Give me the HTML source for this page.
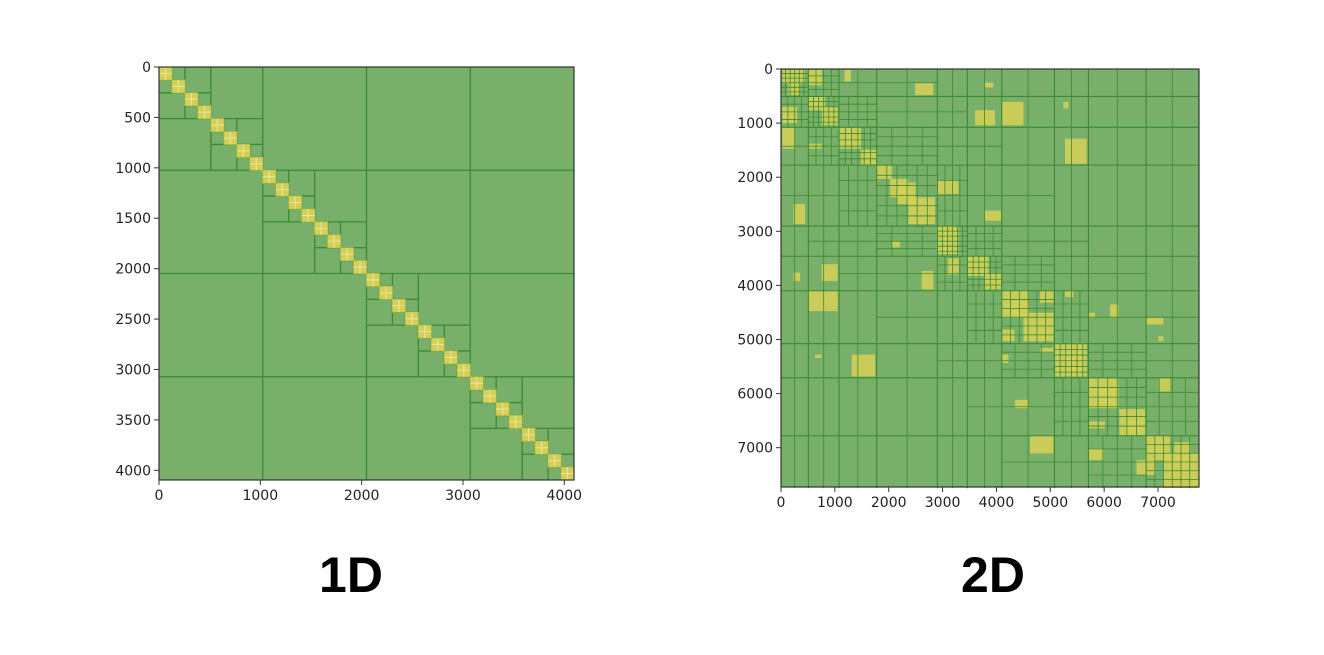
<!DOCTYPE html>
<html><head><meta charset="utf-8">
<style>
html,body{margin:0;padding:0;background:#fff;}
svg text{font-family:"DejaVu Sans","Liberation Sans",sans-serif;}
</style></head>
<body>
<svg id="root" width="1324" height="650" xmlns="http://www.w3.org/2000/svg">
<g id="p1"></g>
<g id="p2"></g>
<text x="351" y="592" text-anchor="middle" font-size="50" font-weight="bold" style="font-family:'Liberation Sans',sans-serif">1D</text>
<text x="993" y="592" text-anchor="middle" font-size="50" font-weight="bold" style="font-family:'Liberation Sans',sans-serif">2D</text>
</svg>
<script>
// ---- data: 1D chart ----
const size1 = 4096;
const levels1 = [1024, 512, 256, 128];
const ticks1 = [0, 1000, 2000, 3000, 4000];
const yticks1 = [0, 500, 1000, 1500, 2000, 2500, 3000, 3500, 4000];
// ---- data: 2D chart ----
const size2 = 7750;
const clusters2 = [0, 508, 1077, 1777, 2904, 3461, 4099, 5077, 5708, 6779, 7750];
const ticks2 = [0, 1000, 2000, 3000, 4000, 5000, 6000, 7000];
const dense2 = [[25,19,446,266],[137,266,353,483],[508,514,818,762],[756,700,1053,1040],[1077,1071,1486,1473],[1486,1492,1777,1764],[1777,1783,2056,2030],[2025,2030,2365,2371],[2365,2371,2860,2866],[2891,2897,3294,3423],[3461,3467,3851,3826],[3776,3776,4086,4073],[4098,4092,4593,4599],[4501,4506,5058,5033],[5089,5064,5677,5683],[5708,5714,6265,6270],[6283,6288,6760,6766],[6779,6784,7224,7230],[7100,7106,7750,7744],[6600,7230,6950,7500],
[508,19,760,300],[1180,19,1300,230],[25,700,300,1000],[2150,2100,2500,2500],[3100,3500,3300,3800],[4300,4300,4600,4600],[5300,5300,5600,5600],[5900,5900,6200,6200],[6400,6500,6700,6700],[7300,6900,7600,7300],
[2489,254,2829,483],[3789,254,3943,341],[3603,762,3974,1040],[4098,607,4501,1040],[5243,607,5336,731],[5274,1288,5677,1752],[25,1071,260,1473],[508,1381,756,1473],[229,2495,446,2866],[756,3609,1053,3918],[229,3764,353,3918],[508,4104,1053,4476],[632,5280,756,5342],[1313,5280,1746,5683],[2613,3733,2829,4073],[2056,3176,2210,3299],[3789,2619,4086,2804],[4810,4104,5058,4321],[5274,4104,5429,4216],[6110,4352,6265,4599],[5708,4506,5831,4599],[6779,4599,7100,4723],[7008,4940,7100,5033],[4098,4816,4333,5033],[4098,5280,4222,5435],[4624,6784,5058,7106],[5708,7010,5986,7230],[7008,5714,7224,5961],[4346,6116,4593,6270],[5708,6518,6017,6642],[4810,5156,5058,5249],[2891,2061,3294,2309]];

const NS = "http://www.w3.org/2000/svg";
const GREEN = "#78b06b", LINE = "#3b8a2e", YEL = "#d3cf58";
function mk(parent, tag, attrs){const e=document.createElementNS(NS,tag);for(const k in attrs)e.setAttribute(k,attrs[k]);parent.appendChild(e);return e;}

// ---- 1D ----
(function(){
  const g = document.getElementById('p1');
  const X0=159, X1=574, Y0=67, Y1=480;
  const sx = v => X0 + v*(X1-X0)/size1;
  const sy = v => Y0 + v*(Y1-Y0)/size1;
  const bg = mk(g,'rect',{x:X0,y:Y0,width:X1-X0,height:Y1-Y0,fill:GREEN});
   
  function line(x1,y1,x2,y2,w){const l=mk(g,'line',{x1:sx(x1),y1:sy(y1),x2:sx(x2),y2:sy(y2),stroke:LINE,'stroke-width':w});
     }
  const top = levels1[0];
  for(let v=top; v<size1; v+=top){ line(v,0,v,size1,1.3); line(0,v,size1,v,1.3); }
  const leaf = levels1[levels1.length-1];
  function rec(o,s,li){
    if(s<=leaf){
      const r=mk(g,'rect',{x:sx(o),y:sy(o),width:sx(o+s)-sx(o),height:sy(o+s)-sy(o),fill:YEL,stroke:"#b9c04c","stroke-width":0.8});
       
      const h=s/2;
      mk(g,'line',{x1:sx(o+h),y1:sy(o),x2:sx(o+h),y2:sy(o+s),stroke:"#e9e48e","stroke-width":1.2});
      mk(g,'line',{x1:sx(o),y1:sy(o+h),x2:sx(o+s),y2:sy(o+h),stroke:"#e9e48e","stroke-width":1.2});
      return;
    }
    const c = levels1[li];
    for(let p=o+c; p<o+s; p+=c){ line(p,o,p,o+s,1.3); line(o,p,o+s,p,1.3); }
    for(let p=o; p<o+s; p+=c) rec(p,c,li+1);
  }
  for(let p=0;p<size1;p+=top) rec(p,top,1);
  const fr=mk(g,'rect',{x:X0,y:Y0,width:X1-X0,height:Y1-Y0,fill:"none",stroke:"#333","stroke-width":1.2});
   
  ticks1.forEach(t=>{
    mk(g,'line',{x1:sx(t),y1:Y1,x2:sx(t),y2:Y1+5,stroke:"#333"});
    const tx=mk(g,'text',{x:sx(t),y:Y1+20,'text-anchor':'middle','font-size':14,fill:'#222'}); tx.textContent=t;
     
  });
  yticks1.forEach(t=>{
    mk(g,'line',{x1:X0-5,y1:sy(t),x2:X0,y2:sy(t),stroke:"#333"});
    const tx=mk(g,'text',{x:X0-8,y:sy(t)+5,'text-anchor':'end','font-size':14,fill:'#222'}); tx.textContent=t;
     
  });
})();

// ---- 2D ----
(function(){
  const g = document.getElementById('p2');
  const X0=781, X1=1199, Y0=69, Y1=487;
  const sx = v => X0 + v*0.05386;
  const sy = v => Y0 + v*0.0541;
  const bg=mk(g,'rect',{x:X0,y:Y0,width:X1-X0,height:Y1-Y0,fill:GREEN});
   
  dense2.forEach(d=>{
    const r=mk(g,'rect',{x:sx(d[0]),y:sy(d[1]),width:sx(d[2])-sx(d[0]),height:sy(d[3])-sy(d[1]),fill:YEL,opacity:0.9});
     
  });
  function line(x1,y1,x2,y2,w){const l=mk(g,'line',{x1:sx(x1),y1:sy(y1),x2:sx(x2),y2:sy(y2),stroke:LINE,'stroke-width':w});
     }
  const n=clusters2.length-1;
  for(let i=1;i<n;i++){ const v=clusters2[i]; line(v,0,v,size2,1.1); line(0,v,size2,v,1.1); }
  for(let i=0;i<n;i++) for(let j=0;j<n;j++){
    const a0=clusters2[i],a1=clusters2[i+1],b0=clusters2[j],b1=clusters2[j+1];
    const d=Math.abs(i-j);
    if(d<=3){
      const k = d===0?6:(d===1?4:2);
      for(let q=1;q<k;q++){
        const xa=a0+(a1-a0)*q/k, yb=b0+(b1-b0)*q/k;
        line(xa,b0,xa,b1,0.8); line(a0,yb,a1,yb,0.8);
      }
    } else {
      line((a0+a1)/2,b0,(a0+a1)/2,b1,0.8);
    }
  }
  const fr=mk(g,'rect',{x:X0,y:Y0,width:X1-X0,height:Y1-Y0,fill:"none",stroke:"#333","stroke-width":1.2});
   
  ticks2.forEach(t=>{
    mk(g,'line',{x1:sx(t),y1:Y1,x2:sx(t),y2:Y1+5,stroke:"#333"});
    const tx=mk(g,'text',{x:sx(t),y:Y1+20,'text-anchor':'middle','font-size':14,fill:'#222'}); tx.textContent=t;
     
    mk(g,'line',{x1:X0-5,y1:sy(t),x2:X0,y2:sy(t),stroke:"#333"});
    const ty=mk(g,'text',{x:X0-8,y:sy(t)+5,'text-anchor':'end','font-size':14,fill:'#222'}); ty.textContent=t;
     
  });
})();
</script>
</body></html>
